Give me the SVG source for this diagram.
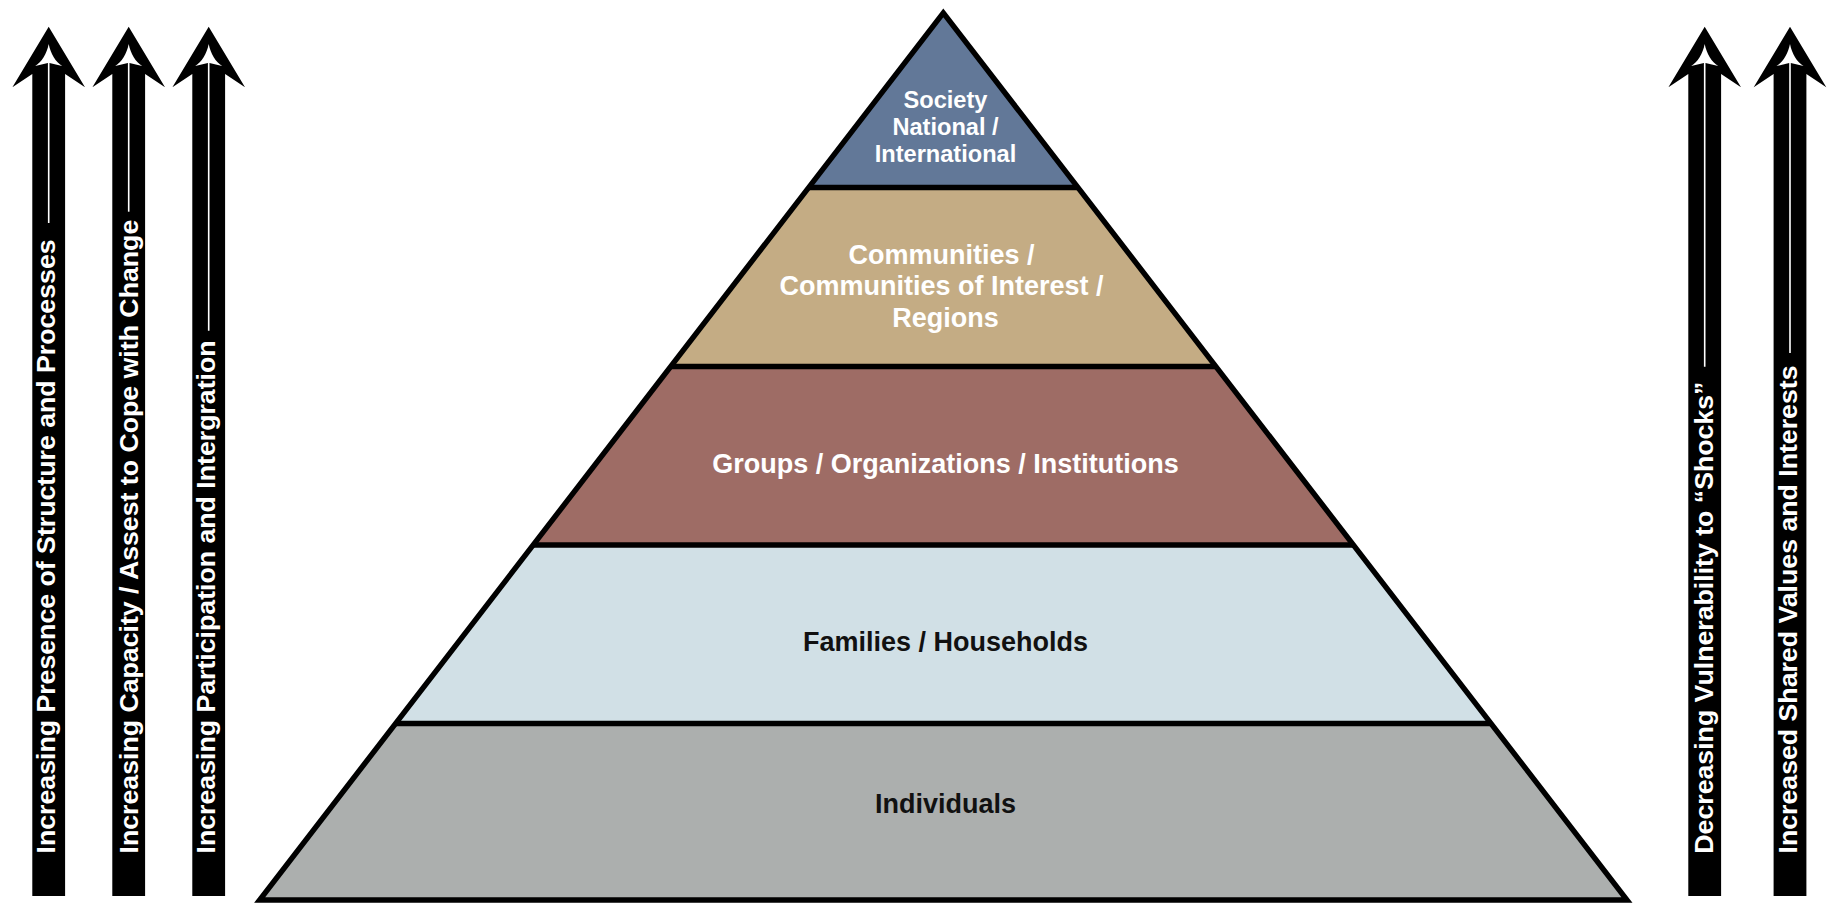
<svg xmlns="http://www.w3.org/2000/svg" xmlns:xlink="http://www.w3.org/1999/xlink" width="1834" height="903" viewBox="0 0 1834 903">
<style>
.lbl{font-family:"Liberation Sans",Arial,sans-serif;font-weight:bold;text-anchor:middle}
.w{fill:#ffffff}
.k{fill:#111111}
.s{font-size:23.6px}
.m{font-size:27px}
.at{font-family:"Liberation Sans",Arial,sans-serif;font-weight:bold;font-size:26.7px;fill:#ffffff}
.tier{stroke:none}
.sep{stroke:#000;stroke-width:5.4;fill:none}
.cl{stroke:#ffffff;stroke-width:1.6}
</style>
<defs>
<g id="arrow">
<polygon points="0,26.7 36.3,87.3 16.4,74 16.4,896 -16.4,896 -16.4,74 -36.3,87.3" fill="#000"/>
<path d="M0,44 C-2,54 -7,62 -13.5,66 L-0.8,63 L0.8,63 L13.5,66 C7,62 2,54 0,44 Z" fill="#fff"/>
</g>
</defs>
<rect width="1834" height="903" fill="#ffffff"/>

<g id="pyramid">
<g id="tier-society">
<polygon class="tier" points="943.3,12.8 1077.9,187.5 808.7,187.5" fill="#627898"/>
<text class="lbl w s" x="945.5" y="108.3">Society</text>
<text class="lbl w s" x="945.5" y="135">National /</text>
<text class="lbl w s" x="945.5" y="162.3">International</text>
</g>
<g id="tier-communities">
<polygon class="tier" points="808.7,187.5 1077.9,187.5 1215.9,366.5 670.7,366.5" fill="#C4AC84"/>
<text class="lbl w m" x="941.5" y="263.5">Communities /</text>
<text class="lbl w m" x="941.5" y="295">Communities of Interest /</text>
<text class="lbl w m" x="945.5" y="326.5">Regions</text>
</g>
<g id="tier-groups">
<polygon class="tier" points="670.7,366.5 1215.9,366.5 1353.4,545 533.2,545" fill="#9E6C65"/>
<text class="lbl w m" x="945.5" y="473">Groups / Organizations / Institutions</text>
</g>
<g id="tier-families">
<polygon class="tier" points="533.2,545 1353.4,545 1491,723.5 395.6,723.5" fill="#D1E0E6"/>
<text class="lbl k m" x="945.5" y="651">Families / Households</text>
</g>
<g id="tier-individuals">
<polygon class="tier" points="395.6,723.5 1491,723.5 1627,900 259.6,900" fill="#ACAFAE"/>
<text class="lbl k m" x="945.5" y="813">Individuals</text>
</g>
<g id="outline">
<line class="sep" x1="808.7" y1="187.5" x2="1077.9" y2="187.5"/>
<line class="sep" x1="670.7" y1="366.5" x2="1215.9" y2="366.5"/>
<line class="sep" x1="533.2" y1="545" x2="1353.4" y2="545"/>
<line class="sep" x1="395.6" y1="723.5" x2="1491" y2="723.5"/>
<polygon class="sep" points="943.3,12.8 1627,900 259.6,900" stroke-linejoin="miter"/>
</g>
</g>

<g id="arrow-structure">
<use xlink:href="#arrow" href="#arrow" transform="translate(48.7,0)"/>
<line class="cl" x1="48.7" y1="62" x2="48.7" y2="223"/>
<text class="at" transform="translate(55.2,853.5) rotate(-90)">Increasing Presence of Structure and Processes</text>
</g>
<g id="arrow-capacity">
<use xlink:href="#arrow" href="#arrow" transform="translate(128.7,0)"/>
<line class="cl" x1="128.7" y1="62" x2="128.7" y2="211.7"/>
<text class="at" transform="translate(138.3,853.5) rotate(-90)">Increasing Capacity / Assest to Cope with Change</text>
</g>
<g id="arrow-participation">
<use xlink:href="#arrow" href="#arrow" transform="translate(208.7,0)"/>
<line class="cl" x1="208.7" y1="62" x2="208.7" y2="330.7"/>
<text class="at" transform="translate(215,853.5) rotate(-90)">Increasing Participation and Intergration</text>
</g>
<g id="arrow-vulnerability">
<use xlink:href="#arrow" href="#arrow" transform="translate(1704.7,0)"/>
<line class="cl" x1="1704.7" y1="62" x2="1704.7" y2="366.7"/>
<text class="at" transform="translate(1713.3,853.7) rotate(-90)">Decreasing Vulnerability to “Shocks”</text>
</g>
<g id="arrow-values">
<use xlink:href="#arrow" href="#arrow" transform="translate(1790,0)"/>
<line class="cl" x1="1790" y1="62" x2="1790" y2="353"/>
<text class="at" transform="translate(1796.7,853.5) rotate(-90)">Increased Shared Values and Interests</text>
</g>
</svg>
